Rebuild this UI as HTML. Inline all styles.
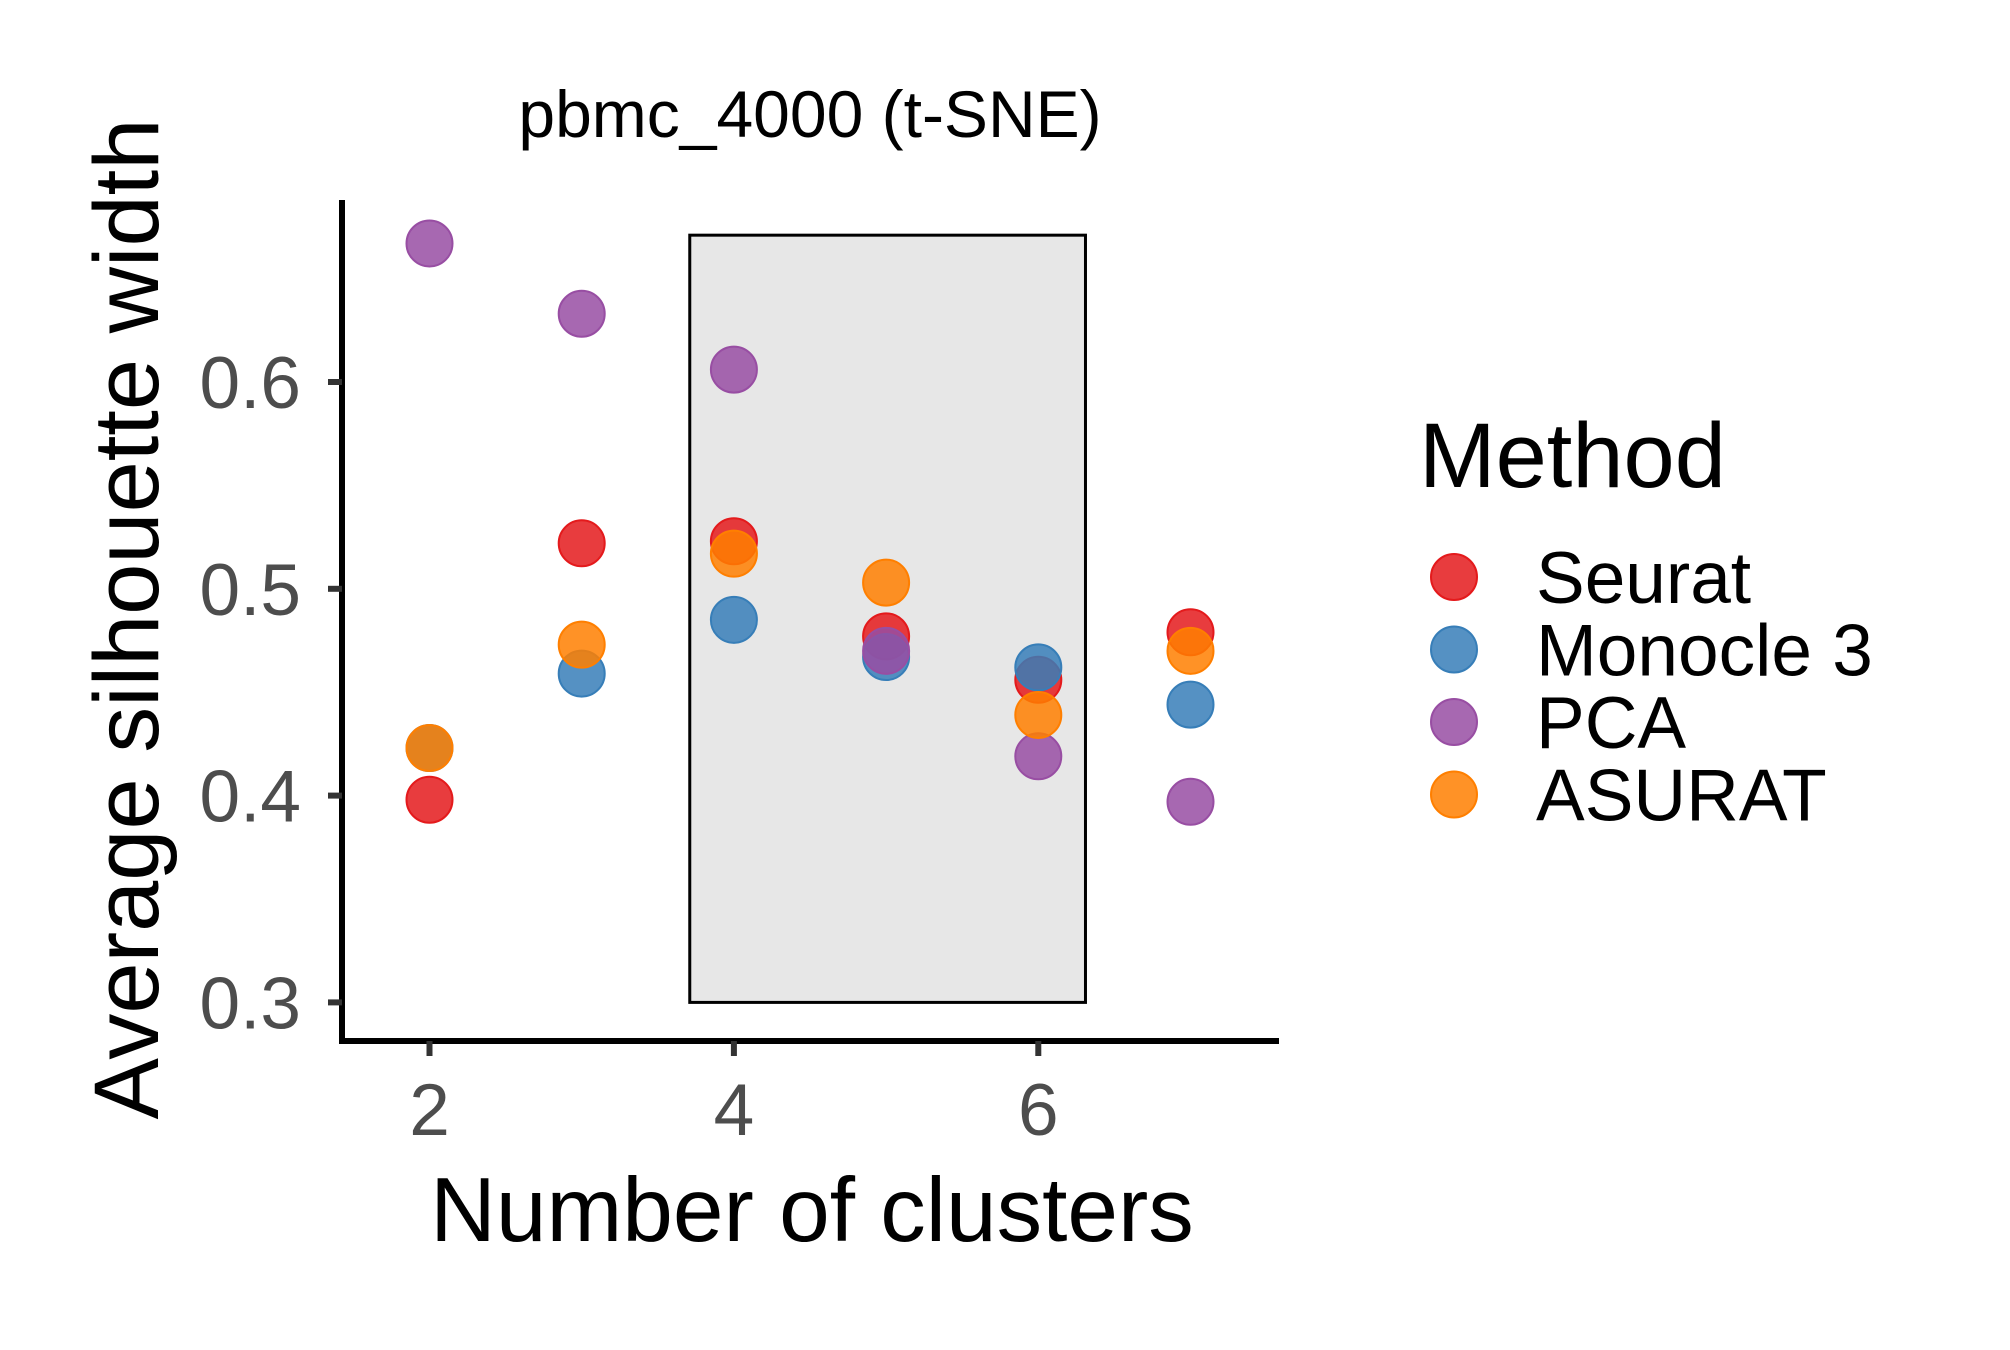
<!DOCTYPE html>
<html><head><meta charset="utf-8"><style>
html,body{margin:0;padding:0;background:#fff;}
svg{display:block;font-family:"Liberation Sans",Arial,sans-serif;}
</style></head><body>
<svg id="chart" width="2010" height="1350" viewBox="0 0 2010 1350" xmlns="http://www.w3.org/2000/svg">
<rect width="2010" height="1350" fill="#fff"/>
<text x="810" y="137" font-size="66" text-anchor="middle" fill="#000">pbmc_4000 (t-SNE)</text>
<g id="plot"></g>
<text x="812" y="1241" font-size="91" text-anchor="middle" fill="#000">Number of clusters</text>
<text transform="translate(158,619) rotate(-90)" font-size="92" text-anchor="middle" fill="#000">Average silhouette width</text>
<g id="legend">
<text x="1419" y="487" font-size="92" fill="#000">Method</text>
</g>
</svg>
<script>
const categories = [2, 3, 4, 5, 6, 7];
const methods = ["Seurat", "Monocle 3", "PCA", "ASURAT"];
const seurat = [0.398, 0.522, 0.523, 0.477, 0.456, 0.479];
const monocle = [0.423, 0.459, 0.485, 0.467, 0.462, 0.444];
const pca = [0.667, 0.633, 0.606, 0.470, 0.419, 0.397];
const asurat = [0.423, 0.473, 0.517, 0.503, 0.439, 0.470];
const yTicks = [0.3, 0.4, 0.5, 0.6];
const xTicks = [2, 4, 6];
const highlight = [3.71, 6.31, 0.3, 0.671];

const NS = "http://www.w3.org/2000/svg";
const colors = ["#E41A1C", "#377EB8", "#984EA3", "#FF7F00"];
const series = [seurat, monocle, pca, asurat];
const xS = v => 429.5 + (v - 2) * 152.2;
const yS = v => 382 + (0.6 - v) * 2068;
const plot = document.getElementById("plot");
function mk(tag, attrs, parent) {
  const el = document.createElementNS(NS, tag);
  for (const k in attrs) el.setAttribute(k, attrs[k]);
  parent.appendChild(el);
  return el;
}
const hr = mk("rect", {x: xS(highlight[0]), y: yS(highlight[3]), width: xS(highlight[1]) - xS(highlight[0]), height: yS(highlight[2]) - yS(highlight[3]), fill: "#e7e7e7", stroke: "#000", "stroke-width": 3}, plot);


const ya = mk("line", {x1: 342, y1: 200, x2: 342, y2: 1044, stroke: "#000", "stroke-width": 6}, plot);


const xa = mk("line", {x1: 339, y1: 1041, x2: 1279, y2: 1041, stroke: "#000", "stroke-width": 6}, plot);


yTicks.forEach(t => {
  const y = yS(t);
  const l = mk("line", {x1: 328, y1: y, x2: 342, y2: y, stroke: "#333", "stroke-width": 6}, plot);
  
  
  const tx = mk("text", {x: 301, y: y + 26, "font-size": 73, "text-anchor": "end", fill: "#4d4d4d"}, plot);
  tx.textContent = t.toFixed(1);
  
  
});
xTicks.forEach(t => {
  const x = xS(t);
  const l = mk("line", {x1: x, y1: 1041, x2: x, y2: 1056, stroke: "#333", "stroke-width": 6}, plot);
  
  
  const tx = mk("text", {x: x, y: 1135, "font-size": 73, "text-anchor": "middle", fill: "#4d4d4d"}, plot);
  tx.textContent = t;
  
  
});
series.forEach((vals, si) => {
  vals.forEach((v, i) => {
    const c = mk("circle", {cx: xS(categories[i]), cy: yS(v), r: 23, fill: colors[si], "fill-opacity": 0.85, stroke: colors[si], "stroke-width": 2}, plot);
    
    
  });
});
const leg = document.getElementById("legend");
methods.forEach((m, i) => {
  const y = 577 + i * 72.5;
  const c = mk("circle", {cx: 1454, cy: y, r: 23, fill: colors[i], "fill-opacity": 0.85, stroke: colors[i], "stroke-width": 2}, leg);
  
  
  const t = mk("text", {x: 1536, y: y + 26, "font-size": 73, fill: "#000"}, leg);
  t.textContent = m;
  
  
});
</script>
</body></html>
